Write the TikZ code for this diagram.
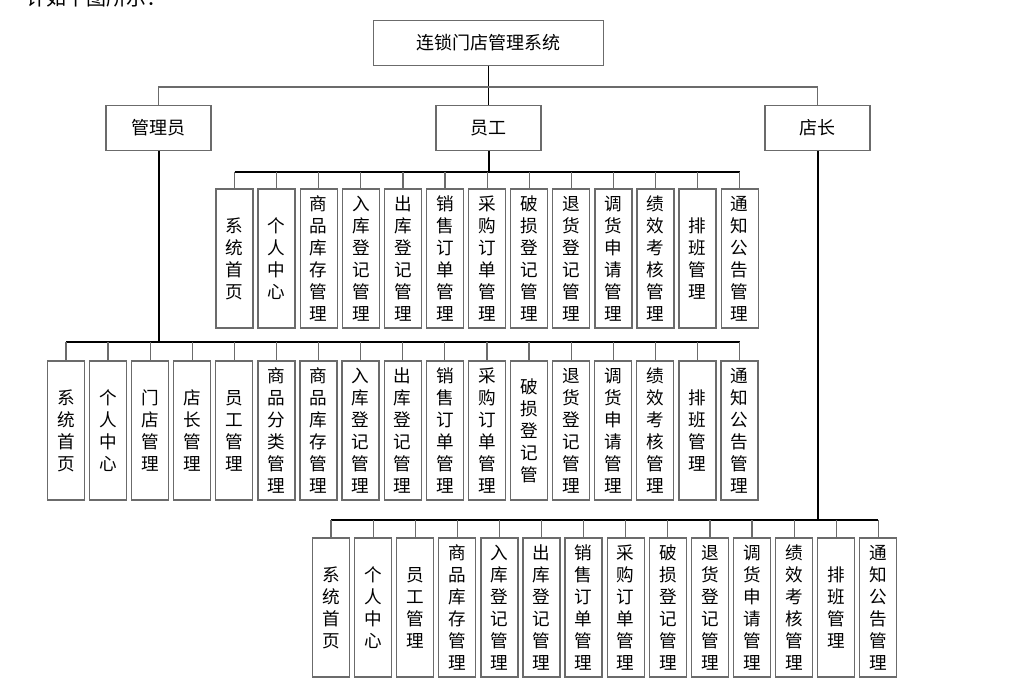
\documentclass[tikz,border=0pt]{standalone}
\usepackage{fontspec}
\setmainfont{Noto Sans CJK SC}
\usepackage{tikz}

\definecolor{borda}{gray}{0.42}

\begin{document}
\begin{tikzpicture}[
	x=0.75pt, y=-0.75pt,
	box/.style={draw=borda, line width=1pt, rectangle, minimum width=78.75pt, minimum height=33.75pt, inner sep=0pt, font=\fontsize{13.5}{15}\selectfont},
	col/.style={draw=borda, line width=1pt, rectangle, minimum width=27.75pt, minimum height=104.25pt, inner sep=0pt, align=center, font=\fontsize{13.2}{16.5}\selectfont},
	tronco/.style={line width=1.5pt, black},
	ramo/.style={line width=0.9pt, borda}
	]
	\useasboundingbox (0,0) rectangle (1032,682);
	\node[anchor=west, inner sep=0pt, font=\fontsize{15}{15}\selectfont] (intro) at (26,-2) {计如下图所示：};

	\node[box, minimum width=172.5pt] (sys) at (488.5,43) {连锁门店管理系统};
	\node[box] (adm) at (158.5,128) {管理员};
	\node[box] (yg) at (488.5,128) {员工};
	\node[box] (dz) at (817.5,128) {店长};

	% employee
	\node[col] (e1) at (234.5,258.5) {系\\统\\首\\页};
	\node[col] (e2) at (276.6,258.5) {个\\人\\中\\心};
	\node[col] (e3) at (318.7,258.5) {商\\品\\库\\存\\管\\理};
	\node[col] (e4) at (360.8,258.5) {入\\库\\登\\记\\管\\理};
	\node[col] (e5) at (402.9,258.5) {出\\库\\登\\记\\管\\理};
	\node[col] (e6) at (445.0,258.5) {销\\售\\订\\单\\管\\理};
	\node[col] (e7) at (487.1,258.5) {采\\购\\订\\单\\管\\理};
	\node[col] (e8) at (529.2,258.5) {破\\损\\登\\记\\管\\理};
	\node[col] (e9) at (571.3,258.5) {退\\货\\登\\记\\管\\理};
	\node[col] (e10) at (613.4,258.5) {调\\货\\申\\请\\管\\理};
	\node[col] (e11) at (655.5,258.5) {绩\\效\\考\\核\\管\\理};
	\node[col] (e12) at (697.6,258.5) {排\\班\\管\\理};
	\node[col] (e13) at (739.7,258.5) {通\\知\\公\\告\\管\\理};

	% admin
	\node[col] (a1) at (65.9,430.5) {系\\统\\首\\页};
	\node[col] (a2) at (108.0,430.5) {个\\人\\中\\心};
	\node[col] (a3) at (150.1,430.5) {门\\店\\管\\理};
	\node[col] (a4) at (192.2,430.5) {店\\长\\管\\理};
	\node[col] (a5) at (234.3,430.5) {员\\工\\管\\理};
	\node[col] (a6) at (276.4,430.5) {商\\品\\分\\类\\管\\理};
	\node[col] (a7) at (318.5,430.5) {商\\品\\库\\存\\管\\理};
	\node[col] (a8) at (360.6,430.5) {入\\库\\登\\记\\管\\理};
	\node[col] (a9) at (402.7,430.5) {出\\库\\登\\记\\管\\理};
	\node[col] (a10) at (444.8,430.5) {销\\售\\订\\单\\管\\理};
	\node[col] (a11) at (486.9,430.5) {采\\购\\订\\单\\管\\理};
	\node[col] (a12) at (529.0,430.5) {破\\损\\登\\记\\管};
	\node[col] (a13) at (571.1,430.5) {退\\货\\登\\记\\管\\理};
	\node[col] (a14) at (613.2,430.5) {调\\货\\申\\请\\管\\理};
	\node[col] (a15) at (655.3,430.5) {绩\\效\\考\\核\\管\\理};
	\node[col] (a16) at (697.4,430.5) {排\\班\\管\\理};
	\node[col] (a17) at (739.5,430.5) {通\\知\\公\\告\\管\\理};

	% store manager
	\node[col] (m1) at (331.0,607.5) {系\\统\\首\\页};
	\node[col] (m2) at (373.1,607.5) {个\\人\\中\\心};
	\node[col] (m3) at (415.2,607.5) {员\\工\\管\\理};
	\node[col] (m4) at (457.3,607.5) {商\\品\\库\\存\\管\\理};
	\node[col] (m5) at (499.4,607.5) {入\\库\\登\\记\\管\\理};
	\node[col] (m6) at (541.5,607.5) {出\\库\\登\\记\\管\\理};
	\node[col] (m7) at (583.6,607.5) {销\\售\\订\\单\\管\\理};
	\node[col] (m8) at (625.7,607.5) {采\\购\\订\\单\\管\\理};
	\node[col] (m9) at (667.8,607.5) {破\\损\\登\\记\\管\\理};
	\node[col] (m10) at (709.9,607.5) {退\\货\\登\\记\\管\\理};
	\node[col] (m11) at (752.0,607.5) {调\\货\\申\\请\\管\\理};
	\node[col] (m12) at (794.1,607.5) {绩\\效\\考\\核\\管\\理};
	\node[col] (m13) at (836.2,607.5) {排\\班\\管\\理};
	\node[col] (m14) at (878.3,607.5) {通\\知\\公\\告\\管\\理};

	\coordinate (topbus) at (488.5,87);
	\coordinate (ygbus) at (488.5,172);
	\coordinate (admbus) at (158.5,342);
	\coordinate (dzbus) at (817.5,520);

	\draw[line width=0.9pt] (sys) -- (yg);
	\draw[ramo, line width=1.3pt] (adm) |- (topbus) -| (dz);

	\draw[tronco] (yg) -- (ygbus);
	\draw[tronco] (e1 |- ygbus) -- (e13 |- ygbus);
	\draw[ramo] (e1 |- ygbus) -- (e1) (e2 |- ygbus) -- (e2) (e3 |- ygbus) -- (e3) (e4 |- ygbus) -- (e4)
		(e5 |- ygbus) -- (e5) (e6 |- ygbus) -- (e6) (e7 |- ygbus) -- (e7) (e8 |- ygbus) -- (e8)
		(e9 |- ygbus) -- (e9) (e10 |- ygbus) -- (e10) (e11 |- ygbus) -- (e11) (e12 |- ygbus) -- (e12)
		(e13 |- ygbus) -- (e13);

	\draw[tronco] (adm) -- (admbus);
	\draw[tronco] (a1 |- admbus) -- (a17 |- admbus);
	\draw[ramo] (a1 |- admbus) -- (a1) (a2 |- admbus) -- (a2) (a3 |- admbus) -- (a3) (a4 |- admbus) -- (a4)
		(a5 |- admbus) -- (a5) (a6 |- admbus) -- (a6) (a7 |- admbus) -- (a7) (a8 |- admbus) -- (a8)
		(a9 |- admbus) -- (a9) (a10 |- admbus) -- (a10) (a11 |- admbus) -- (a11) (a12 |- admbus) -- (a12)
		(a13 |- admbus) -- (a13) (a14 |- admbus) -- (a14) (a15 |- admbus) -- (a15) (a16 |- admbus) -- (a16)
		(a17 |- admbus) -- (a17);

	\draw[tronco] (dz) -- (dzbus);
	\draw[tronco] (m1 |- dzbus) -- (m14 |- dzbus);
	\draw[ramo] (m1 |- dzbus) -- (m1) (m2 |- dzbus) -- (m2) (m3 |- dzbus) -- (m3) (m4 |- dzbus) -- (m4)
		(m5 |- dzbus) -- (m5) (m6 |- dzbus) -- (m6) (m7 |- dzbus) -- (m7) (m8 |- dzbus) -- (m8)
		(m9 |- dzbus) -- (m9) (m10 |- dzbus) -- (m10) (m11 |- dzbus) -- (m11) (m12 |- dzbus) -- (m12)
		(m13 |- dzbus) -- (m13) (m14 |- dzbus) -- (m14);
\end{tikzpicture}
\end{document}
